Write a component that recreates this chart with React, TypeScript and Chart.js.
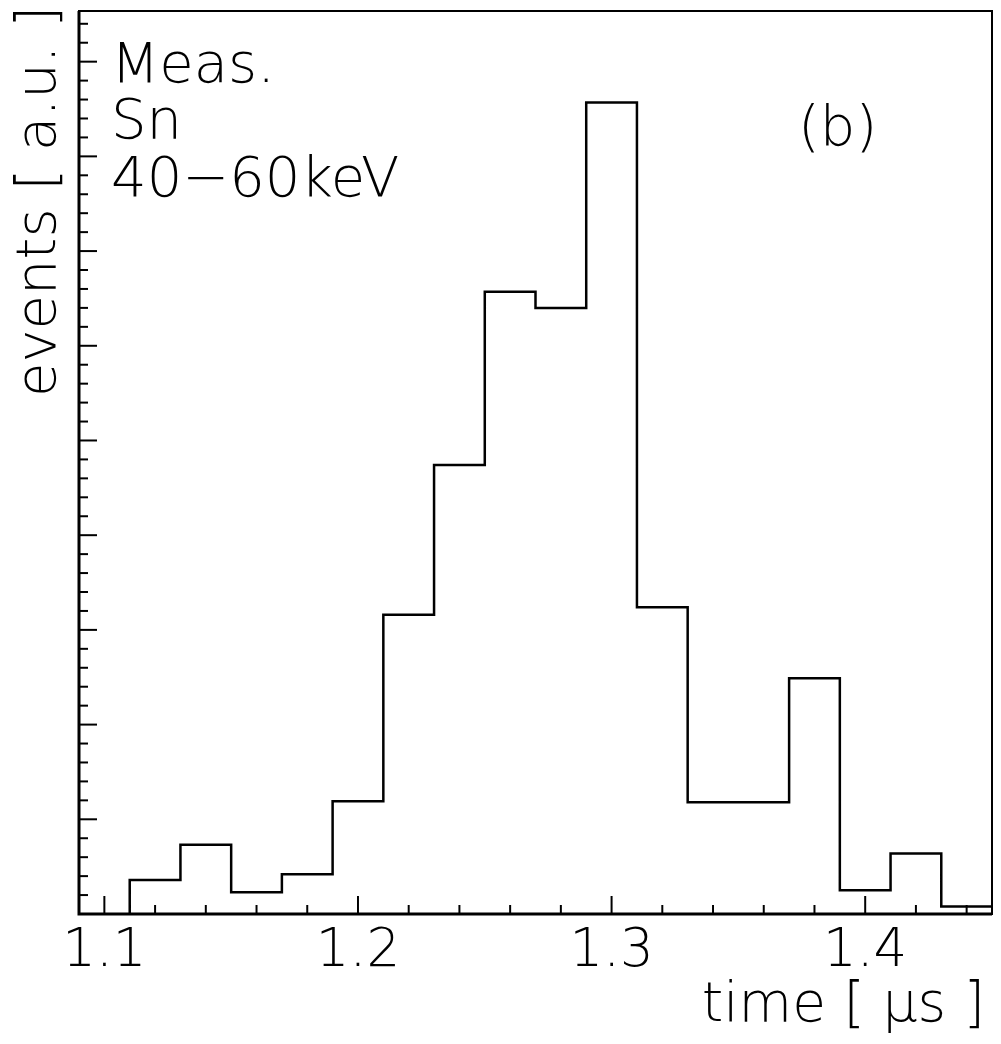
import React, { useEffect, useRef } from "react";
import { Chart, registerables } from "chart.js";

Chart.register(...registerables);

// Bin edges (time in µs) and counts per bin (arbitrary units)
const binEdges = [1.11, 1.13, 1.15, 1.17, 1.19, 1.21, 1.23, 1.25, 1.27, 1.29, 1.31, 1.33, 1.35, 1.37, 1.39, 1.41, 1.43, 1.45];
const counts = [3.6, 7.3, 2.3, 4.2, 11.9, 31.6, 47.4, 65.7, 64.0, 85.7, 32.4, 11.8, 11.8, 24.9, 2.5, 6.4, 0.8];
const xTickLabels = [1.1, 1.2, 1.3, 1.4];
const xRange = [1.09, 1.45];
const yRange = [0, 95.35];
const annotationLines = ["Meas.", "Sn", "40\u221260keV"];
const panelLabel = "(b)";
const xTitle = "time [ \u03bcs ]";
const yTitle = "events [ a.u. ]";

const FONT = '"DejaVu Sans", sans-serif';

const decor = {
  id: "decor",
  afterDraw(chart: any) {
    const { ctx, chartArea: a, scales } = chart;
    const xs = scales.x;
    const ys = scales.y;
    ctx.save();
    ctx.strokeStyle = "#000";
    ctx.fillStyle = "#000";
    // frame
    ctx.lineWidth = 2;
    ctx.strokeRect(a.left, a.top, a.right - a.left, a.bottom - a.top);
    ctx.lineWidth = 3;
    ctx.beginPath();
    ctx.moveTo(a.left, a.top);
    ctx.lineTo(a.left, a.bottom);
    ctx.lineTo(a.right, a.bottom);
    ctx.stroke();
    // x ticks (inside)
    ctx.lineWidth = 2;
    for (let i = 0; i <= 17; i++) {
      const v = 1.1 + i * 0.02;
      if (v > xRange[1] - 1e-6) break;
      const px = xs.getPixelForValue(v);
      const major = i % 5 === 0;
      ctx.beginPath();
      ctx.moveTo(px, a.bottom);
      ctx.lineTo(px, a.bottom - (major ? 18 : 9));
      ctx.stroke();
    }
    // y ticks (inside)
    for (let i = 1; ; i++) {
      const v = i * 2;
      if (v > yRange[1]) break;
      const py = ys.getPixelForValue(v);
      const major = i % 5 === 0;
      ctx.beginPath();
      ctx.moveTo(a.left, py);
      ctx.lineTo(a.left + (major ? 18 : 9), py);
      ctx.stroke();
    }
    // annotation text
    ctx.font = `300 56px ${FONT}`;
    ctx.textAlign = "left";
    ctx.textBaseline = "alphabetic";
    const baselines = [82, 138, 196];
    annotationLines.forEach((t, i) => ctx.fillText(t, a.left + 32, baselines[i]));
    ctx.fillText(panelLabel, a.left + 719, 145);
    // x title
    ctx.font = `300 55px ${FONT}`;
    ctx.textAlign = "right";
    ctx.fillText(xTitle, 985, 1021);
    // y title
    ctx.save();
    ctx.translate(55, 397);
    ctx.rotate(-Math.PI / 2);
    ctx.font = `300 56px ${FONT}`;
    ctx.textAlign = "left";
    ctx.fillText(yTitle, 0, 0);
    ctx.restore();
    ctx.restore();
  },
};

export default function App() {
  const ref = useRef<HTMLCanvasElement>(null);
  useEffect(() => {
    if (!ref.current) return;
    const pts: { x: number; y: number }[] = [{ x: binEdges[0], y: 0 }];
    counts.forEach((c, i) => pts.push({ x: binEdges[i], y: c }));
    pts.push({ x: binEdges[binEdges.length - 1], y: counts[counts.length - 1] });
    const chart = new Chart(ref.current, {
      type: "line",
      data: {
        datasets: [
          {
            data: pts,
            stepped: "before",
            borderColor: "#000",
            borderWidth: 2.5,
            pointRadius: 0,
            fill: false,
          },
        ],
      },
      options: {
        animation: false,
        responsive: false,
        devicePixelRatio: 1,
        layout: { padding: { left: 79, right: 9, top: 11, bottom: 0 } },
        plugins: { legend: { display: false }, tooltip: { enabled: false } },
        scales: {
          x: {
            type: "linear",
            min: xRange[0],
            max: xRange[1],
            grid: { display: false, drawTicks: false },
            border: { display: false },
            afterBuildTicks: (s: any) => {
              s.ticks = xTickLabels.map((v) => ({ value: v }));
            },
            afterFit: (s: any) => {
              s.height = 130;
            },
            ticks: {
              color: "#000",
              padding: 6,
              maxRotation: 0,
              autoSkip: false,
              font: { family: FONT, size: 53, weight: "300" as any },
              callback: (v: any) => Number(v).toFixed(1),
            },
          },
          y: {
            display: false,
            min: yRange[0],
            max: yRange[1],
          },
        },
      },
      plugins: [decor],
    });
    return () => chart.destroy();
  }, []);
  return (
    <div style={{ position: "absolute", left: 0, top: 0, width: 1001, height: 1044, background: "#fff" }}>
      <canvas ref={ref} width={1001} height={1044} />
    </div>
  );
}
